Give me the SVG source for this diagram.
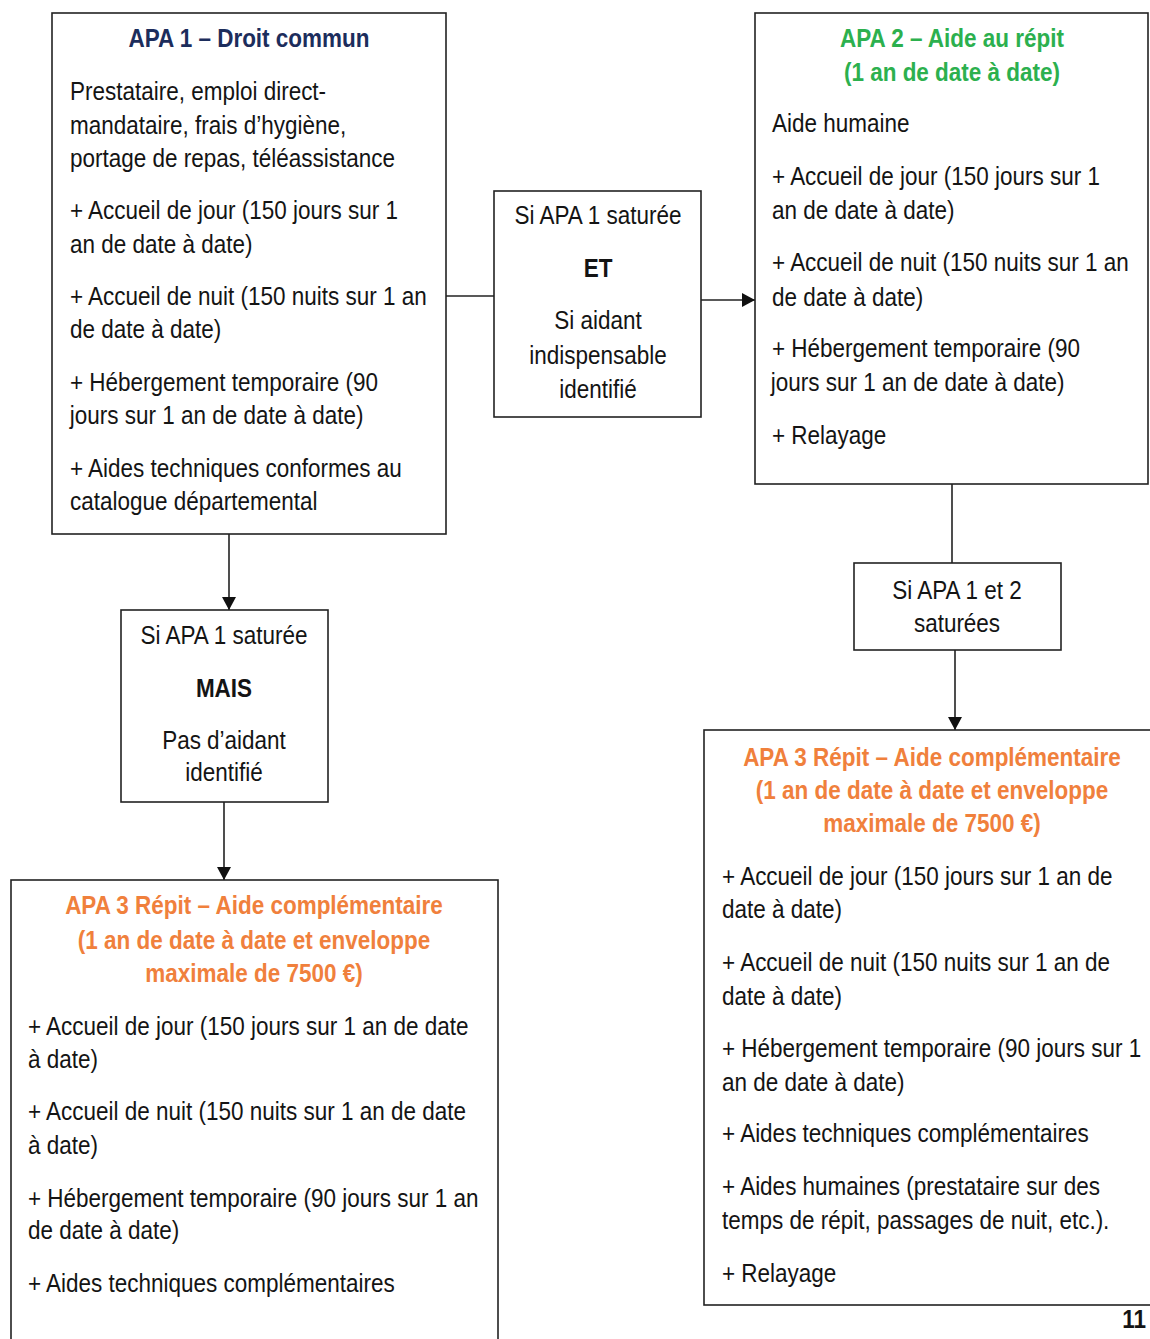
<svg xmlns="http://www.w3.org/2000/svg" width="1150" height="1339" viewBox="0 0 1150 1339">
<defs>
<style>
rect.box { fill: #fff; stroke: #222; stroke-width: 1.6; }
.conn line { stroke: #222; stroke-width: 1.6; }
text { font-family: "Liberation Sans", Arial, sans-serif; font-size: 25.5px; fill: #141414; transform-box: fill-box; transform: scaleX(0.882); }
.l { transform-origin: 0% 50%; }
.c { text-anchor: middle; transform-origin: 50% 50%; }
.r { text-anchor: end; transform-origin: 100% 50%; }
.b { font-weight: bold; }
.navy { fill: #1c2d5c; }
.green { fill: #2cb04e; }
.orange { fill: #f0803c; }
</style>
<marker id="arr" viewBox="0 0 13 14" refX="13" refY="7" markerWidth="13" markerHeight="14" markerUnits="userSpaceOnUse" orient="auto">
<path d="M0,0 L13,7 L0,14 Z" fill="#111"/>
</marker>
</defs>
<rect width="1150" height="1339" fill="#fff"/>

<g id="connectors" class="conn">
<line x1="446" y1="296" x2="494" y2="296"/>
<line x1="701" y1="300" x2="755" y2="300" marker-end="url(#arr)"/>
<line x1="229" y1="534" x2="229" y2="610" marker-end="url(#arr)"/>
<line x1="224" y1="802" x2="224" y2="880" marker-end="url(#arr)"/>
<line x1="952" y1="484" x2="952" y2="563"/>
<line x1="955" y1="650" x2="955" y2="730" marker-end="url(#arr)"/>
</g>

<g id="apa1">
<rect class="box" x="52" y="13" width="394" height="521"/>
<text class="c b navy" x="249" y="47">APA 1 – Droit commun</text>
<text class="l" x="70" y="100">Prestataire, emploi direct-</text>
<text class="l" x="70" y="134">mandataire, frais d’hygiène,</text>
<text class="l" x="70" y="167">portage de repas, téléassistance</text>
<text class="l" x="70" y="219">+ Accueil de jour (150 jours sur 1</text>
<text class="l" x="70" y="253">an de date à date)</text>
<text class="l" x="70" y="305">+ Accueil de nuit (150 nuits sur 1 an</text>
<text class="l" x="70" y="338">de date à date)</text>
<text class="l" x="70" y="391">+ Hébergement temporaire (90</text>
<text class="l" x="70" y="424">jours sur 1 an de date à date)</text>
<text class="l" x="70" y="477">+ Aides techniques conformes au</text>
<text class="l" x="70" y="510">catalogue départemental</text>
</g>

<g id="cond-et">
<rect class="box" x="494" y="191" width="207" height="226"/>
<text class="c" x="598" y="224">Si APA 1 saturée</text>
<text class="c b" x="598" y="277">ET</text>
<text class="c" x="598" y="329">Si aidant</text>
<text class="c" x="598" y="364">indispensable</text>
<text class="c" x="598" y="398">identifié</text>
</g>

<g id="apa2">
<rect class="box" x="755" y="13" width="393" height="471"/>
<text class="c b green" x="952" y="47">APA 2 – Aide au répit</text>
<text class="c b green" x="952" y="81">(1 an de date à date)</text>
<text class="l" x="772" y="132">Aide humaine</text>
<text class="l" x="772" y="185">+ Accueil de jour (150 jours sur 1</text>
<text class="l" x="772" y="219">an de date à date)</text>
<text class="l" x="772" y="271">+ Accueil de nuit (150 nuits sur 1 an</text>
<text class="l" x="772" y="306">de date à date)</text>
<text class="l" x="772" y="357">+ Hébergement temporaire (90</text>
<text class="l" x="771" y="391">jours sur 1 an de date à date)</text>
<text class="l" x="772" y="444">+ Relayage</text>
</g>

<g id="cond-mais">
<rect class="box" x="121" y="610" width="207" height="192"/>
<text class="c" x="224" y="644">Si APA 1 saturée</text>
<text class="c b" x="224" y="697">MAIS</text>
<text class="c" x="224" y="749">Pas d’aidant</text>
<text class="c" x="224" y="781">identifié</text>
</g>

<g id="cond-12">
<rect class="box" x="854" y="563" width="207" height="87"/>
<text class="c" x="957" y="599">Si APA 1 et 2</text>
<text class="c" x="957" y="632">saturées</text>
</g>

<g id="apa3-right">
<rect class="box" x="704" y="730" width="460" height="575"/>
<text class="c b orange" x="932" y="766">APA 3 Répit – Aide complémentaire</text>
<text class="c b orange" x="932" y="799">(1 an de date à date et enveloppe</text>
<text class="c b orange" x="932" y="832">maximale de 7500 €)</text>
<text class="l" x="722" y="885">+ Accueil de jour (150 jours sur 1 an de</text>
<text class="l" x="722" y="918">date à date)</text>
<text class="l" x="722" y="971">+ Accueil de nuit (150 nuits sur 1 an de</text>
<text class="l" x="722" y="1005">date à date)</text>
<text class="l" x="722" y="1057">+ Hébergement temporaire (90 jours sur 1</text>
<text class="l" x="722" y="1091">an de date à date)</text>
<text class="l" x="722" y="1142">+ Aides techniques complémentaires</text>
<text class="l" x="722" y="1195">+ Aides humaines (prestataire sur des</text>
<text class="l" x="722" y="1229">temps de répit, passages de nuit, etc.).</text>
<text class="l" x="722" y="1282">+ Relayage</text>
</g>

<g id="apa3-left">
<rect class="box" x="11" y="880" width="487" height="480"/>
<text class="c b orange" x="254" y="914">APA 3 Répit – Aide complémentaire</text>
<text class="c b orange" x="254" y="949">(1 an de date à date et enveloppe</text>
<text class="c b orange" x="254" y="982">maximale de 7500 €)</text>
<text class="l" x="28" y="1035">+ Accueil de jour (150 jours sur 1 an de date</text>
<text class="l" x="28" y="1068">à date)</text>
<text class="l" x="28" y="1120">+ Accueil de nuit (150 nuits sur 1 an de date</text>
<text class="l" x="28" y="1154">à date)</text>
<text class="l" x="28" y="1207">+ Hébergement temporaire (90 jours sur 1 an</text>
<text class="l" x="28" y="1239">de date à date)</text>
<text class="l" x="28" y="1292">+ Aides techniques complémentaires</text>
</g>

<text class="r b" x="1146" y="1328">11</text>
</svg>
